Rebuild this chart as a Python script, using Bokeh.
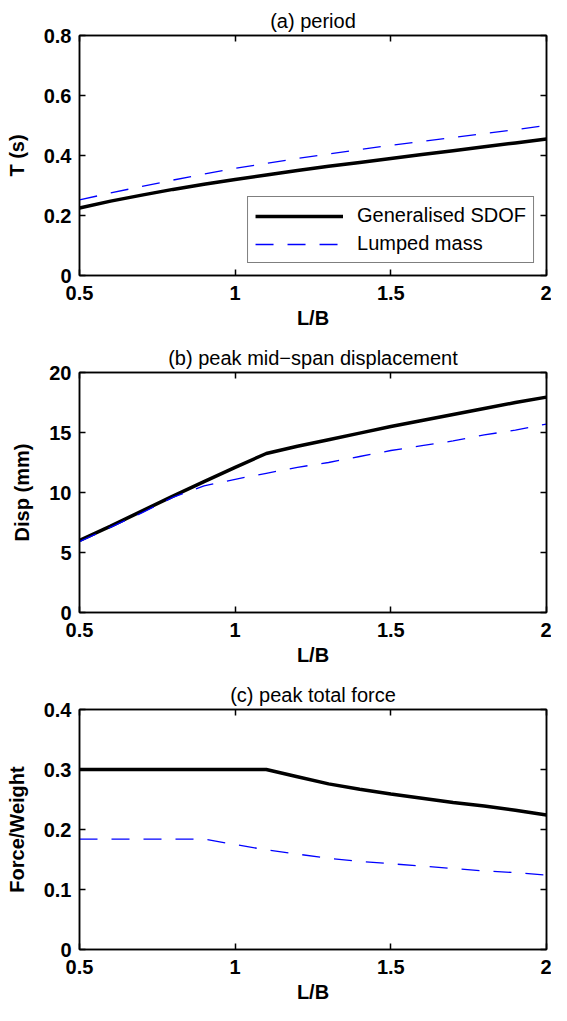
from bokeh.plotting import figure
from bokeh.layouts import column
from bokeh.models import (LinearAxis, Range1d, FixedTicker, CustomJSTickFormatter,
                          Legend, LegendItem)
from bokeh.embed import file_html
from bokeh.resources import INLINE

# ---------------- data ----------------
lb = [0.5, 0.6, 0.7, 0.8, 0.9, 1.0, 1.1, 1.2, 1.3, 1.4, 1.5, 1.6, 1.7, 1.8, 1.9, 2.0]

period_sdof = [0.225, 0.248, 0.268, 0.287, 0.304, 0.320, 0.335, 0.350,
               0.364, 0.377, 0.390, 0.403, 0.416, 0.429, 0.442, 0.455]
period_lumped = [0.252, 0.275, 0.297, 0.318, 0.338, 0.357, 0.374, 0.390,
                 0.405, 0.420, 0.434, 0.447, 0.460, 0.473, 0.486, 0.500]

disp_sdof = [6.0, 7.2, 8.45, 9.7, 10.9, 12.1, 13.25, 13.85,
             14.4, 14.95, 15.5, 16.0, 16.5, 17.0, 17.5, 17.95]
disp_lumped = [5.9, 7.1, 8.3, 9.6, 10.55, 11.1, 11.6, 12.1,
               12.5, 13.0, 13.5, 13.9, 14.3, 14.8, 15.2, 15.7]

force_sdof = [0.300, 0.300, 0.300, 0.300, 0.300, 0.300, 0.300, 0.288,
              0.276, 0.267, 0.259, 0.252, 0.245, 0.239, 0.232, 0.224]
force_lumped = [0.184, 0.184, 0.184, 0.184, 0.184, 0.175, 0.166, 0.159,
                0.152, 0.147, 0.143, 0.139, 0.135, 0.131, 0.128, 0.124]

x_ticks = [0.5, 1, 1.5, 2]
period_ticks = [0, 0.2, 0.4, 0.6, 0.8]
disp_ticks = [0, 5, 10, 15, 20]
force_ticks = [0, 0.1, 0.2, 0.3, 0.4]

titles = ["(a) period", "(b) peak mid\u2212span displacement", "(c) peak total force"]
ylabels = ["T (s)", "Disp (mm)", "Force/Weight"]
xlabel = "L/B"
series_names = ["Generalised SDOF", "Lumped mass"]

FONT = "Liberation Sans"
fmt_code = "return String(parseFloat(tick.toFixed(3)));"
empty_code = "return '';"


def style_axis(ax, ticks, show_labels):
    ax.ticker = FixedTicker(ticks=ticks)
    ax.axis_line_color = "black"
    ax.axis_line_width = 1.5
    ax.major_tick_in = 6
    ax.major_tick_out = 0
    ax.major_tick_line_width = 1.5
    ax.major_tick_line_color = "black"
    ax.minor_tick_line_color = None
    ax.major_label_text_font = FONT
    ax.major_label_text_font_style = "bold"
    ax.major_label_text_color = "black"
    if show_labels:
        ax.formatter = CustomJSTickFormatter(code=fmt_code)
        ax.major_label_text_font_size = "20px"
    else:
        ax.formatter = CustomJSTickFormatter(code=empty_code)
        ax.major_label_text_font_size = "1px"
        ax.major_label_standoff = 0
    ax.axis_label_text_font = FONT
    ax.axis_label_text_font_size = "20px"
    ax.axis_label_text_font_style = "bold"
    ax.axis_label_text_color = "black"


def make_panel(title, ylabel, y1, y2, yticks, ymax, height, bottom, legend=False):
    p = figure(width=551, height=height, x_range=Range1d(0.5, 2.0),
               y_range=Range1d(0, ymax), output_backend="svg",
               toolbar_location=None, title=title,
               min_border_left=79, min_border_right=5,
               min_border_top=35, min_border_bottom=bottom)
    p.title.align = "center"
    p.title.text_font = FONT
    p.title.text_font_size = "20px"
    p.title.text_font_style = "normal"
    p.title.text_color = "black"
    p.title.standoff = 8
    p.xgrid.visible = False
    p.ygrid.visible = False
    p.outline_line_color = "black"
    p.outline_line_width = 1.5
    p.background_fill_color = "white"
    p.border_fill_color = "white"

    xa = p.xaxis[0]
    ya = p.yaxis[0]
    style_axis(xa, x_ticks, True)
    style_axis(ya, yticks, True)
    xa.axis_label = xlabel
    xa.major_label_standoff = 10
    xa.axis_label_standoff = 4
    ya.axis_label = ylabel
    ya.major_label_standoff = 8
    ya.axis_label_standoff = 13

    top = LinearAxis()
    style_axis(top, x_ticks, False)
    p.add_layout(top, "above")
    right = LinearAxis()
    style_axis(right, yticks, False)
    p.add_layout(right, "right")

    r1 = p.line(lb, y1, line_color="black", line_width=3.5)
    r2 = p.line(lb, y2, line_color="#0000ff", line_width=1.3, line_dash="18 14")

    if legend:
        leg = Legend(items=[LegendItem(label=series_names[0], renderers=[r1]),
                            LegendItem(label=series_names[1], renderers=[r2])],
                     location="bottom_right")
        leg.margin = 12
        leg.padding = 7
        leg.spacing = 5
        leg.glyph_width = 88
        leg.glyph_height = 22
        leg.label_standoff = 14
        leg.label_text_font = FONT
        leg.label_text_font_size = "20px"
        leg.label_text_color = "black"
        leg.border_line_color = "black"
        leg.border_line_width = 1.5
        leg.background_fill_color = "white"
        leg.background_fill_alpha = 1.0
        p.add_layout(leg)
    return p


p1 = make_panel(titles[0], ylabels[0], period_sdof, period_lumped, period_ticks, 0.8, 337, 62, legend=True)
p2 = make_panel(titles[1], ylabels[1], disp_sdof, disp_lumped, disp_ticks, 20, 337, 62)
p3 = make_panel(titles[2], ylabels[2], force_sdof, force_lumped, force_ticks, 0.4, 331, 56)

layout = column(p1, p2, p3, spacing=0)
open("out.html", "w").write(file_html(layout, INLINE))
